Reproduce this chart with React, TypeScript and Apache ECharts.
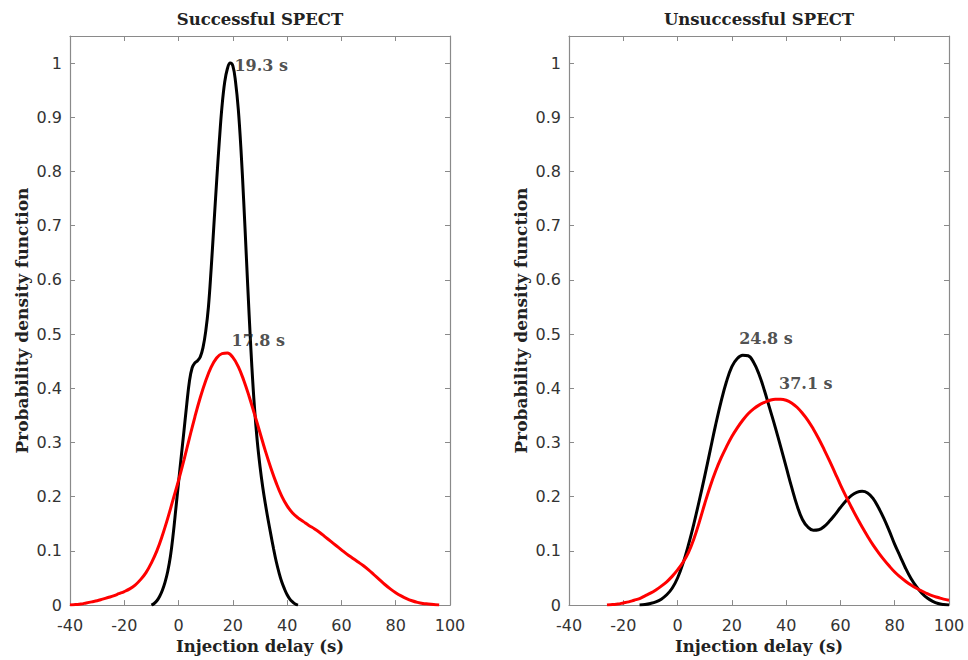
import React, { useEffect, useRef } from "react";
import * as echarts from "echarts";

// Successful SPECT — black curve (peak 19.3 s), x from -10 step 1
const successBlackX0 = -10;
const successBlackStep = 1;
const successBlack: number[] = [
  0, 0.003, 0.008, 0.016, 0.027, 0.042, 0.062, 0.09, 0.13, 0.178,
  0.227, 0.275, 0.322, 0.37, 0.413, 0.438, 0.447, 0.451, 0.458, 0.475,
  0.505, 0.55, 0.62, 0.7, 0.78, 0.855, 0.92, 0.965, 0.99, 1.0,
  0.995, 0.965, 0.915, 0.84, 0.745, 0.64, 0.535, 0.44, 0.362, 0.302,
  0.256, 0.218, 0.186, 0.157, 0.13, 0.104, 0.08, 0.06, 0.043, 0.03,
  0.019, 0.011, 0.006, 0.002, 0,
];

// Successful SPECT — red curve (peak 17.8 s), x from -40 step 2
const successRedX0 = -40;
const successRedStep = 2;
const successRed: number[] = [
  0, 0.001, 0.002, 0.004, 0.006, 0.008, 0.011, 0.014, 0.017, 0.021,
  0.025, 0.03, 0.037, 0.047, 0.06, 0.078, 0.1, 0.128, 0.16, 0.195,
  0.23, 0.268, 0.308, 0.347, 0.383, 0.414, 0.439, 0.456, 0.464, 0.465,
  0.457, 0.44, 0.415, 0.385, 0.352, 0.318, 0.284, 0.253, 0.225, 0.201,
  0.183, 0.17, 0.161, 0.154, 0.147, 0.141, 0.134, 0.126, 0.118, 0.11,
  0.102, 0.094, 0.087, 0.08, 0.073, 0.065, 0.056, 0.047, 0.038, 0.03,
  0.023, 0.017, 0.012, 0.008, 0.005, 0.003, 0.002, 0.001, 0,
];

// Unsuccessful SPECT — black curve (peak 24.8 s), x from -14 step 2
const failBlackX0 = -14;
const failBlackStep = 2;
const failBlack: number[] = [
  0, 0.001, 0.003, 0.006, 0.011, 0.019, 0.031, 0.05, 0.077, 0.111,
  0.15, 0.193, 0.238, 0.285, 0.332, 0.375, 0.412, 0.44, 0.455, 0.461,
  0.46, 0.448, 0.426, 0.396, 0.362, 0.328, 0.292, 0.255, 0.218, 0.184,
  0.158, 0.144, 0.138, 0.139, 0.145, 0.155, 0.167, 0.18, 0.192, 0.202,
  0.208, 0.21, 0.207, 0.197, 0.18, 0.16, 0.137, 0.112, 0.09, 0.068,
  0.049, 0.034, 0.022, 0.013, 0.007, 0.003, 0.001, 0,
];

// Unsuccessful SPECT — red curve (peak 37.1 s), x from -26 step 2
const failRedX0 = -26;
const failRedStep = 2;
const failRed: number[] = [
  0, 0.001, 0.002, 0.004, 0.006, 0.009, 0.012, 0.017, 0.022, 0.028,
  0.035, 0.043, 0.053, 0.065, 0.079, 0.097, 0.122, 0.153, 0.187, 0.219,
  0.247, 0.271, 0.292, 0.311, 0.327, 0.341, 0.353, 0.362, 0.369, 0.374,
  0.378, 0.38, 0.38, 0.378, 0.373, 0.365, 0.354, 0.341, 0.325, 0.307,
  0.287, 0.266, 0.244, 0.222, 0.201, 0.181, 0.162, 0.144, 0.127, 0.111,
  0.097, 0.084, 0.072, 0.061, 0.052, 0.044, 0.037, 0.031, 0.026, 0.021,
  0.017, 0.014, 0.011, 0.009,
];

// Peak annotations: [x, y, text] (text's left-middle anchor in data units)
const annotationsLeft: [number, number, string][] = [
  [20.6, 0.995, "19.3 s"],
  [19.5, 0.488, "17.8 s"],
];
const annotationsRight: [number, number, string][] = [
  [22.7, 0.491, "24.8 s"],
  [37.4, 0.408, "37.1 s"],
];

const titles = ["Successful SPECT", "Unsuccessful SPECT"];
const xName = "Injection delay (s)";
const yName = "Probability density function";
const xMin = -40, xMax = 100, xStep = 20;
const yMin = 0, yMax = 1.05, yStep = 0.1;

const AXIS_COLOR = "#8a8a8a";
const SERIF = "'DejaVu Serif', serif";
const SANS = "'DejaVu Sans', sans-serif";

const toPairs = (ys: number[], x0: number, step: number) => ys.map((y, i) => [x0 + i * step, y]);

export default function App() {
  const ref = useRef<HTMLDivElement>(null);

  useEffect(() => {
    if (!ref.current) return;
    const chart = echarts.init(ref.current, null, { renderer: "svg" });

    const nameStyle = { fontFamily: SERIF, fontWeight: "bold" as const, fontSize: 16.5, color: "#222" };
    const tick = { show: true, inside: true, length: 5, lineStyle: { color: AXIS_COLOR, width: 1 } };
    const line = { show: true, onZero: false, lineStyle: { color: AXIS_COLOR, width: 1.2 } };

    const xAxes: any[] = [];
    const yAxes: any[] = [];
    [0, 1].forEach((g) => {
      xAxes.push({
        type: "value", gridIndex: g, position: "bottom", min: xMin, max: xMax, interval: xStep,
        axisLine: line, axisTick: tick, splitLine: { show: false },
        axisLabel: { color: "#333", fontFamily: SANS, fontSize: 16, margin: 12 },
        name: xName, nameLocation: "middle", nameGap: 26, nameTextStyle: nameStyle,
      });
      xAxes.push({
        type: "value", gridIndex: g, position: "top", min: xMin, max: xMax, interval: xStep,
        axisLine: line, axisTick: tick, splitLine: { show: false }, axisLabel: { show: false },
        name: titles[g], nameLocation: "middle", nameGap: 8, nameTextStyle: nameStyle,
      });
      yAxes.push({
        type: "value", gridIndex: g, position: "left", min: yMin, max: yMax, interval: yStep,
        axisLine: line, axisTick: tick, splitLine: { show: false },
        axisLabel: { color: "#333", fontFamily: SANS, fontSize: 16, margin: 8, showMaxLabel: false },
        name: yName, nameLocation: "middle", nameGap: 40, nameTextStyle: { ...nameStyle, fontSize: 17 },
      });
      yAxes.push({
        type: "value", gridIndex: g, position: "right", min: yMin, max: yMax, interval: yStep,
        axisLine: line, axisTick: tick, splitLine: { show: false }, axisLabel: { show: false },
      });
    });

    const curve = (data: number[][], g: number, color: string) => ({
      type: "line", xAxisIndex: g * 2, yAxisIndex: g * 2, data,
      showSymbol: false, symbol: "none", smooth: 0.4,
      lineStyle: { color, width: 3 }, silent: true,
    });
    const notes = (data: [number, number, string][], g: number) => ({
      type: "scatter", xAxisIndex: g * 2, yAxisIndex: g * 2, data, symbolSize: 0, silent: true, z: 10,
      label: {
        show: true, position: "right", distance: 0,
        formatter: (p: any) => p.data[2],
        fontFamily: SERIF, fontWeight: "bold", fontSize: 16, color: "#222",
      },
    });

    chart.setOption({
      animation: false,
      backgroundColor: "#fff",
      grid: [
        { left: 70, top: 36, width: 380, height: 571 },
        { left: 569, top: 36, width: 380, height: 571 },
      ],
      xAxis: xAxes,
      yAxis: yAxes,
      series: [
        curve(toPairs(successBlack, successBlackX0, successBlackStep), 0, "#000000"),
        curve(toPairs(successRed, successRedX0, successRedStep), 0, "#ff0000"),
        curve(toPairs(failBlack, failBlackX0, failBlackStep), 1, "#000000"),
        curve(toPairs(failRed, failRedX0, failRedStep), 1, "#ff0000"),
        notes(annotationsLeft, 0),
        notes(annotationsRight, 1),
      ],
    });

    return () => chart.dispose();
  }, []);

  return <div ref={ref} style={{ position: "absolute", left: 0, top: 0, width: 968, height: 660 }} />;
}
